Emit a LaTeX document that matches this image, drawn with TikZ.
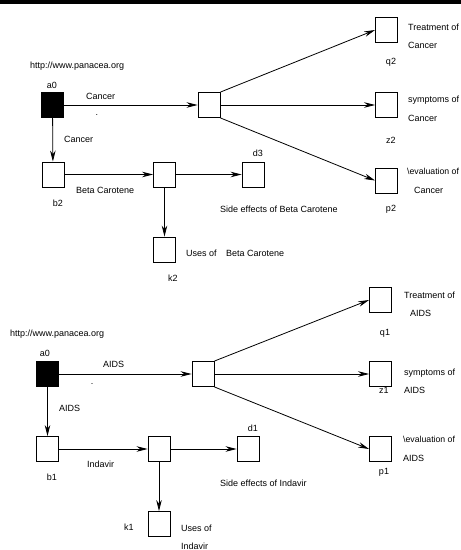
\documentclass[tikz,border=0pt]{standalone}
\usepackage{fontspec}
\setmainfont{Liberation Sans}
\usetikzlibrary{arrows.meta}
\begin{document}
\begin{tikzpicture}[x=1pt,y=-1pt,
  box/.style={draw,line width=0.9pt,minimum width=22pt,minimum height=25pt,inner sep=0pt},
  blackbox/.style={box,fill=black},
  arr/.style={line width=0.8pt,-{Stealth[length=11pt,width=5.5pt]}},
  lbl/.style={inner sep=0pt,anchor=west,font=\fontsize{9}{10}\selectfont},
  clbl/.style={inner sep=0pt,font=\fontsize{9}{10}\selectfont}]
\useasboundingbox (0,0) rectangle (461,550);
\fill[black] (0,0) rectangle (461,4);
% ---------- top diagram ----------
\node[blackbox] (a0t) at (52.5,105) {};
\node[box] (ct) at (209,105) {};
\node[box] (q2) at (386.5,30) {};
\node[box] (z2) at (386.5,105) {};
\node[box] (p2) at (386.5,180.5) {};
\node[box] (b2) at (53,174.5) {};
\node[box] (m2) at (164.5,174.5) {};
\node[box] (d3) at (253,174.5) {};
\node[box] (k2) at (164.5,249.5) {};
\draw[arr] (a0t) -- (ct);
\draw[arr] (a0t) -- (b2);
\draw[arr] (ct.north east) -- (q2.west);
\draw[arr] (ct) -- (z2);
\draw[arr] (ct.south east) -- (p2.west);
\draw[arr] (b2) -- (m2);
\draw[arr] (m2) -- (d3);
\draw[arr] (m2) -- (k2);
\node[lbl] (t1) at (30,66) {http://www.panacea.org};
\node[clbl] (t2) at (52,85) {a0};
\node[lbl] (t3) at (86,96) {Cancer};
\node[clbl] (t4) at (97,115) {.};
\node[lbl] (t5) at (64,139) {Cancer};
\node[lbl] (t6) at (408,27) {Treatment of};
\node[lbl] (t7) at (408,45) {Cancer};
\node[clbl] (t8) at (391,62) {q2};
\node[lbl] (t9) at (408,100) {symptoms of};
\node[lbl] (t10) at (408,118) {Cancer};
\node[clbl] (t11) at (391,140) {z2};
\node[lbl,font=\fontsize{8.7}{10}\selectfont] (t12) at (407,171) {\textbackslash evaluation of};
\node[lbl] (t13) at (414,190) {Cancer};
\node[clbl] (t14) at (391,209) {p2};
\node[clbl] (t15) at (58,203) {b2};
\node[lbl] (t16) at (76,190) {Beta Carotene};
\node[clbl] (t17) at (258,153) {d3};
\node[lbl] (t18) at (220,209) {Side effects of Beta Carotene};
\node[lbl] (t19) at (186,253) {Uses of};
\node[lbl] (t20) at (226,253) {Beta Carotene};
\node[clbl] (t21) at (173,278) {k2};
% ---------- bottom diagram ----------
\node[blackbox] (a0b) at (47.5,374) {};
\node[box] (cb) at (203,374) {};
\node[box] (q1) at (380.5,300) {};
\node[box] (z1) at (380.5,374) {};
\node[box] (p1) at (380.5,449) {};
\node[box] (b1) at (47.5,449) {};
\node[box] (m1) at (159,449) {};
\node[box] (d1) at (248,449) {};
\node[box] (k1) at (159,524) {};
\draw[arr] (a0b) -- (cb);
\draw[arr] (a0b) -- (b1);
\draw[arr] (cb.north east) -- (q1.west);
\draw[arr] (cb) -- (z1);
\draw[arr] (cb.south east) -- (p1.west);
\draw[arr] (b1) -- (m1);
\draw[arr] (m1) -- (d1);
\draw[arr] (m1) -- (k1);
\node[lbl] (u1) at (10,334) {http://www.panacea.org};
\node[clbl] (u2) at (45,353) {a0};
\node[lbl] (u3) at (103,364) {AIDS};
\node[clbl] (u4) at (92,384) {.};
\node[lbl] (u5) at (59,408) {AIDS};
\node[lbl] (u6) at (404,295) {Treatment of};
\node[lbl] (u7) at (410,313) {AIDS};
\node[clbl] (u8) at (385,333) {q1};
\node[lbl] (u9) at (404,373) {symptoms of};
\node[lbl] (u10) at (404,390) {AIDS};
\node[clbl] (u11) at (384,390) {z1};
\node[lbl,font=\fontsize{8.7}{10}\selectfont] (u12) at (403,439) {\textbackslash evaluation of};
\node[lbl] (u13) at (403,458) {AIDS};
\node[clbl] (u14) at (384,472) {p1};
\node[clbl] (u15) at (52,477) {b1};
\node[lbl] (u16) at (87,464) {Indavir};
\node[clbl] (u17) at (253,428) {d1};
\node[lbl] (u18) at (220,483) {Side effects of Indavir};
\node[clbl] (u19) at (129,527) {k1};
\node[lbl] (u20) at (181,528) {Uses of};
\node[lbl] (u21) at (181,546) {Indavir};
\end{tikzpicture}
\end{document}
